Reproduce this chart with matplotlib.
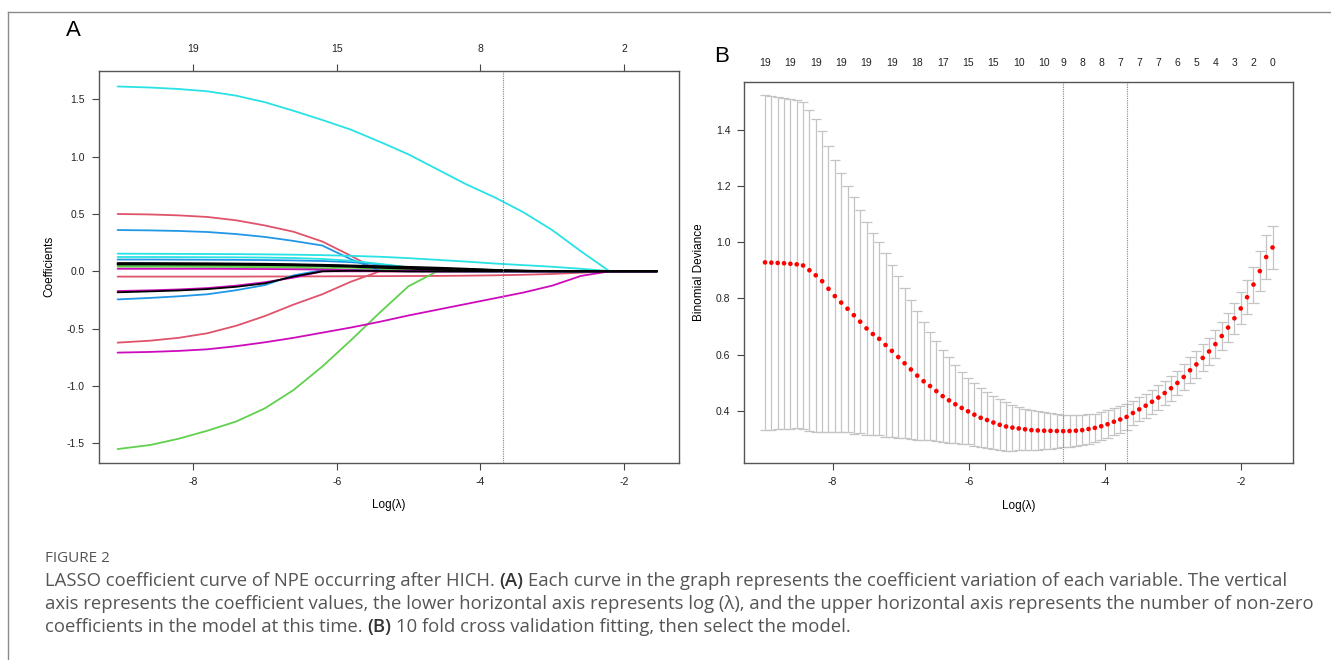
import numpy as np
import matplotlib
matplotlib.use("Agg")
import matplotlib.pyplot as plt

W, H = 1331, 660

# ---- panel A: coefficient paths (values read at a shared log(lambda) grid)
log_lambda_a = [-9.05, -8.6, -8.2, -7.8, -7.4, -7.0, -6.6, -6.2, -5.8, -5.4,
                -5.0, -4.6, -4.2, -3.8, -3.4, -3.0, -2.6, -2.2, -1.9, -1.54]

cyan_big = [1.612, 1.603, 1.590, 1.570, 1.532, 1.475, 1.400, 1.320, 1.235, 1.130,
            1.020, 0.890, 0.760, 0.645, 0.515, 0.360, 0.175, 0.0, 0.0, 0.0]
cyan_mid = [0.154, 0.153, 0.152, 0.151, 0.150, 0.148, 0.145, 0.141, 0.135, 0.127,
            0.115, 0.100, 0.085, 0.068, 0.054, 0.040, 0.022, 0.002, 0.0, 0.0]
cyan_low = [0.125, 0.125, 0.124, 0.123, 0.122, 0.120, 0.116, 0.108, 0.092, 0.065,
            0.035, 0.010, 0.0, 0.0, 0.0, 0.0, 0.0, 0.0, 0.0, 0.0]
red_top = [0.500, 0.496, 0.488, 0.474, 0.445, 0.400, 0.345, 0.260, 0.135, 0.0,
           0.0, 0.0, 0.0, 0.0, 0.0, 0.0, 0.0, 0.0, 0.0, 0.0]
red_neg = [-0.622, -0.605, -0.580, -0.540, -0.475, -0.390, -0.290, -0.200, -0.090, 0.0,
           0.0, 0.0, 0.0, 0.0, 0.0, 0.0, 0.0, 0.0, 0.0, 0.0]
red_low = [-0.046, -0.046, -0.046, -0.046, -0.046, -0.045, -0.045, -0.044, -0.043, -0.042,
           -0.041, -0.040, -0.038, -0.035, -0.030, -0.023, -0.012, 0.0, 0.0, 0.0]
blue_top = [0.360, 0.357, 0.352, 0.343, 0.325, 0.300, 0.265, 0.225, 0.105, 0.005,
            0.003, 0.0, 0.0, 0.0, 0.0, 0.0, 0.0, 0.0, 0.0, 0.0]
blue_neg = [-0.245, -0.232, -0.218, -0.200, -0.165, -0.120, -0.035, 0.010, 0.008, 0.004,
            0.0, 0.0, 0.0, 0.0, 0.0, 0.0, 0.0, 0.0, 0.0, 0.0]
blue_low = [0.103, 0.103, 0.102, 0.101, 0.100, 0.098, 0.095, 0.090, 0.080, 0.060,
            0.035, 0.012, 0.0, 0.0, 0.0, 0.0, 0.0, 0.0, 0.0, 0.0]
magenta_big = [-0.709, -0.703, -0.694, -0.680, -0.653, -0.619, -0.580, -0.535, -0.490, -0.440,
               -0.385, -0.335, -0.285, -0.235, -0.185, -0.125, -0.040, 0.0, 0.0, 0.0]
magenta_neg = [-0.172, -0.166, -0.158, -0.146, -0.125, -0.095, -0.055, 0.0, 0.0, 0.0,
               0.0, 0.0, 0.0, 0.0, 0.0, 0.0, 0.0, 0.0, 0.0, 0.0]
magenta_low = [0.022, 0.022, 0.022, 0.022, 0.021, 0.020, 0.018, 0.015, 0.010, 0.005,
               0.002, 0.0, 0.0, 0.0, 0.0, 0.0, 0.0, 0.0, 0.0, 0.0]
green_big = [-1.550, -1.515, -1.460, -1.390, -1.310, -1.195, -1.035, -0.830, -0.600, -0.360,
             -0.130, 0.0, 0.0, 0.0, 0.0, 0.0, 0.0, 0.0, 0.0, 0.0]
green_1 = [0.048, 0.048, 0.048, 0.048, 0.047, 0.046, 0.044, 0.040, 0.032, 0.020,
           0.008, 0.0, 0.0, 0.0, 0.0, 0.0, 0.0, 0.0, 0.0, 0.0]
green_2 = [0.040, 0.040, 0.040, 0.039, 0.038, 0.036, 0.032, 0.025, 0.015, 0.005,
           0.0, 0.0, 0.0, 0.0, 0.0, 0.0, 0.0, 0.0, 0.0, 0.0]
black_1 = [0.072, 0.072, 0.071, 0.070, 0.068, 0.066, 0.062, 0.057, 0.051, 0.045,
           0.039, 0.032, 0.023, 0.013, 0.006, 0.002, 0.0, 0.0, 0.0, 0.0]
black_2 = [0.060, 0.060, 0.059, 0.058, 0.057, 0.055, 0.052, 0.047, 0.040, 0.031,
           0.022, 0.014, 0.008, 0.004, 0.001, 0.0, 0.0, 0.0, 0.0, 0.0]
black_3 = [0.065, 0.065, 0.064, 0.063, 0.062, 0.060, 0.057, 0.053, 0.047, 0.040,
           0.033, 0.026, 0.018, 0.011, 0.005, 0.001, 0.0, 0.0, 0.0, 0.0]
black_neg = [-0.183, -0.175, -0.167, -0.155, -0.135, -0.105, -0.045, 0.0, 0.005, 0.003,
             0.0, 0.0, 0.0, 0.0, 0.0, 0.0, 0.0, 0.0, 0.0, 0.0]

# R default palette (matplot col = 1:6)
r_black, r_red, r_green, r_blue, r_cyan, r_magenta = (
    "#000000", "#DF536B", "#61D04F", "#2297E6", "#28E2E5", "#CD0BBC")

paths = [
    (red_top, r_red), (red_neg, r_red), (red_low, r_red),
    (green_big, r_green), (green_1, r_green), (green_2, r_green),
    (blue_top, r_blue), (blue_neg, r_blue), (blue_low, r_blue),
    (cyan_big, r_cyan), (cyan_mid, r_cyan), (cyan_low, r_cyan),
    (magenta_big, r_magenta), (magenta_neg, r_magenta), (magenta_low, r_magenta),
    (black_1, r_black), (black_2, r_black), (black_3, r_black), (black_neg, r_black),
]

top_ticks_a = [-8, -6, -4, -2]
top_labels_a = ["19", "15", "8", "2"]
chosen_a = -3.69

# ---- panel B: 10-fold CV binomial deviance
log_lambda_b = [
    -8.990, -8.897, -8.804, -8.711, -8.618, -8.525, -8.432, -8.339, -8.246, -8.152,
    -8.059, -7.966, -7.873, -7.780, -7.687, -7.594, -7.501, -7.408, -7.315, -7.222,
    -7.129, -7.036, -6.943, -6.850, -6.757, -6.664, -6.570, -6.477, -6.384, -6.291,
    -6.198, -6.105, -6.012, -5.919, -5.826, -5.733, -5.640, -5.547, -5.454, -5.361,
    -5.268, -5.175, -5.082, -4.988, -4.895, -4.802, -4.709, -4.616, -4.523, -4.430,
    -4.337, -4.244, -4.151, -4.058, -3.965, -3.872, -3.779, -3.686, -3.593, -3.500,
    -3.406, -3.313, -3.220, -3.127, -3.034, -2.941, -2.848, -2.755, -2.662, -2.569,
    -2.476, -2.383, -2.290, -2.197, -2.104, -2.011, -1.918, -1.824, -1.731, -1.638,
    -1.545]
cvm = [
    0.928, 0.927, 0.926, 0.925, 0.923, 0.921, 0.917, 0.900, 0.882, 0.861,
    0.834, 0.808, 0.785, 0.763, 0.740, 0.717, 0.693, 0.673, 0.656, 0.634,
    0.613, 0.591, 0.569, 0.547, 0.525, 0.505, 0.488, 0.470, 0.452, 0.437,
    0.423, 0.410, 0.398, 0.386, 0.375, 0.367, 0.358, 0.350, 0.344, 0.340,
    0.337, 0.334, 0.331, 0.330, 0.329, 0.3285, 0.328, 0.3275, 0.328, 0.329,
    0.331, 0.335, 0.339, 0.345, 0.352, 0.361, 0.369, 0.378, 0.392, 0.405,
    0.418, 0.432, 0.447, 0.463, 0.480, 0.499, 0.520, 0.544, 0.565, 0.588,
    0.611, 0.637, 0.666, 0.696, 0.729, 0.764, 0.804, 0.849, 0.897, 0.947,
    0.981]
cvsd = [
    0.595, 0.594, 0.592, 0.589, 0.587, 0.584, 0.583, 0.571, 0.557, 0.536,
    0.508, 0.484, 0.460, 0.438, 0.421, 0.397, 0.379, 0.361, 0.344, 0.328,
    0.307, 0.288, 0.267, 0.248, 0.229, 0.210, 0.193, 0.178, 0.164, 0.153,
    0.139, 0.128, 0.118, 0.111, 0.105, 0.098, 0.094, 0.091, 0.087, 0.082,
    0.077, 0.074, 0.072, 0.069, 0.066, 0.063, 0.060, 0.058, 0.056, 0.055,
    0.054, 0.052, 0.051, 0.050, 0.049, 0.048, 0.047, 0.046, 0.044, 0.043,
    0.043, 0.043, 0.043, 0.043, 0.044, 0.044, 0.045, 0.046, 0.047, 0.048,
    0.049, 0.050, 0.051, 0.053, 0.055, 0.057, 0.060, 0.064, 0.070, 0.078,
    0.076]
top_idx_b = [0, 4, 8, 12, 16, 20, 24, 28, 32, 36, 40, 44, 47, 50, 53, 56, 59, 62,
             65, 68, 71, 74, 77, 80]
top_labels_b = ["19", "19", "19", "19", "19", "19", "18", "17", "15", "15", "10", "10",
                "9", "8", "8", "7", "7", "7", "6", "5", "4", "3", "2", "0"]
lambda_min = -4.616
lambda_1se = -3.686

caption_lines = [
    [("LASSO coefficient curve of NPE occurring after HICH. ", False), ("(A)", True),
     (" Each curve in the graph represents the coefficient variation of each variable. The vertical", False)],
    [("axis represents the coefficient values, the lower horizontal axis represents log (\u03bb), "
      "and the upper horizontal axis represents the number of non-zero", False)],
    [("coefficients in the model at this time. ", False), ("(B)", True),
     (" 10 fold cross validation fitting, then select the model.", False)],
]

plt.rcParams["font.family"] = ["Liberation Sans", "DejaVu Sans"]
plt.rcParams["axes.unicode_minus"] = False
fig = plt.figure(figsize=(W / 100, H / 100), dpi=100)


def px_axes(left, top, right, bottom):
    return fig.add_axes([left / W, 1 - bottom / H, (right - left) / W, (bottom - top) / H])


def style_axes(ax):
    for s in ax.spines.values():
        s.set_color("#555555")
        s.set_linewidth(1.0)
    ax.tick_params(direction="out", length=5, width=0.8, colors="#444444",
                   labelcolor="#222222", labelsize=7.5, pad=5)


# panel A
ax_a = px_axes(98.5, 71, 678.5, 462.7)
for vals, col in paths:
    ax_a.plot(log_lambda_a, vals, color=col, lw=1.3, solid_capstyle="round")
ax_a.axvline(chosen_a, color="#888888", lw=0.8, ls=(0, (1, 1)))
ax_a.set_xlim(-9.316, -1.241)
ax_a.set_ylim(-1.669, 1.747)
ax_a.set_xticks([-8, -6, -4, -2])
ax_a.set_yticks([1.5, 1.0, 0.5, 0.0, -0.5, -1.0, -1.5])
ax_a.set_yticklabels(["1.5", "1.0", "0.5", "0.0", "-0.5", "-1.0", "-1.5"])
style_axes(ax_a)
ax_a.set_xlabel("Log(\u03bb)", fontsize=8.5, labelpad=9)
ax_a.set_ylabel("Coefficients", fontsize=8.5, labelpad=8)
top_a = ax_a.secondary_xaxis("top")
top_a.set_xticks(top_ticks_a)
top_a.set_xticklabels(top_labels_a)
top_a.tick_params(direction="out", length=5, width=0.8, colors="#444444",
                  labelcolor="#222222", labelsize=7.5, pad=7)
top_a.spines["top"].set_visible(False)

# panel B
ax_b = px_axes(744.3, 81.7, 1293.3, 463.3)
x_b = np.array(log_lambda_b)
up = np.array(cvm) + np.array(cvsd)
lo = np.array(cvm) - np.array(cvsd)
barw = 0.01 * (x_b.max() - x_b.min())
ax_b.vlines(x_b, lo, up, color="#c4c4c4", lw=0.9)
ax_b.hlines(up, x_b - barw, x_b + barw, color="#c4c4c4", lw=0.9)
ax_b.hlines(lo, x_b - barw, x_b + barw, color="#c4c4c4", lw=0.9)
ax_b.scatter(x_b, cvm, s=11, c="red", edgecolors="none", zorder=3)
ax_b.axvline(lambda_min, color="#888888", lw=0.8, ls=(0, (1, 1)))
ax_b.axvline(lambda_1se, color="#888888", lw=0.8, ls=(0, (1, 1)))
ax_b.set_xlim(-9.294, -1.240)
ax_b.set_ylim(0.213, 1.571)
ax_b.set_xticks([-8, -6, -4, -2])
ax_b.set_yticks([0.4, 0.6, 0.8, 1.0, 1.2, 1.4])
style_axes(ax_b)
ax_b.set_xlabel("Log(\u03bb)", fontsize=8.5, labelpad=9)
ax_b.set_ylabel("Binomial Deviance", fontsize=8.5, labelpad=8)
top_b = ax_b.secondary_xaxis("top")
top_b.set_xticks([log_lambda_b[i] for i in top_idx_b])
top_b.set_xticklabels(top_labels_b)
top_b.tick_params(length=0, labelcolor="#222222", labelsize=7.5, pad=10)
top_b.spines["top"].set_visible(False)

# panel letters
fig.text(73 / W, 1 - 31 / H, "A", fontsize=16, ha="center", va="center")
fig.text(722 / W, 1 - 57 / H, "B", fontsize=16, ha="center", va="center")

# outer frame (top and left edges)
fig.add_artist(plt.Line2D([8 / W, 1.0], [1 - 12 / H, 1 - 12 / H], transform=fig.transFigure,
                          color="#8a8a8a", lw=1.0))
fig.add_artist(plt.Line2D([8 / W, 8 / W], [1 - 12 / H, 0.0], transform=fig.transFigure,
                          color="#8a8a8a", lw=1.0))

# caption
cap_font = ["Open Sans", "DejaVu Sans"]
cap_size = 13.3
fig.text(45 / W, 1 - 558 / H, "FIGURE 2", fontsize=11.0, color="#555555",
         family=cap_font, va="center")
renderer = fig.canvas.get_renderer()


def text_width(s, weight):
    t = fig.text(0, 0, s, fontsize=cap_size, family=cap_font, fontweight=weight)
    w = t.get_window_extent(renderer).width
    t.remove()
    return w


space_w = text_width("a a", "normal") - text_width("aa", "normal")
for row, runs in enumerate(caption_lines):
    x = 45.0
    y = 581 + 23 * row
    for txt, bold in runs:
        lead = len(txt) - len(txt.lstrip(" "))
        trail = len(txt) - len(txt.rstrip(" "))
        core = txt.strip(" ")
        x += lead * space_w
        weight = "semibold" if bold else "normal"
        color = "#333333" if bold else "#555555"
        t = fig.text(x / W, 1 - y / H, core, fontsize=cap_size, family=cap_font,
                     fontweight=weight, color=color, va="center")
        x += t.get_window_extent(renderer).width + trail * space_w

fig.savefig("out.png", dpi=100)
